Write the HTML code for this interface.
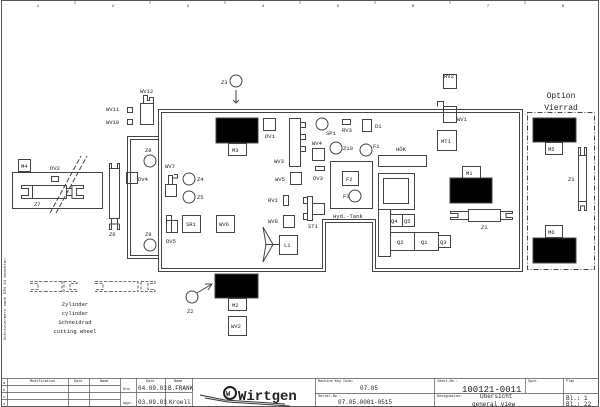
<!DOCTYPE html>
<html><head><meta charset="utf-8"><style>
html,body{margin:0;padding:0;background:#fff;}
svg{display:block;}
text{font-family:"Liberation Mono",monospace;fill:#222;}
</style></head><body>
<svg width="600" height="407" viewBox="0 0 600 407" xmlns="http://www.w3.org/2000/svg">
<g fill="none" stroke="#555" stroke-width="1">
<!-- frame -->
<rect x="1.5" y="0.5" width="597" height="406"/>
<g stroke-width="0.6">
<line x1="75" y1="1" x2="75" y2="4"/><line x1="150" y1="1" x2="150" y2="4"/><line x1="225" y1="1" x2="225" y2="4"/><line x1="300" y1="1" x2="300" y2="4"/><line x1="375" y1="1" x2="375" y2="4"/><line x1="450" y1="1" x2="450" y2="4"/><line x1="525" y1="1" x2="525" y2="4"/>
</g>
</g>
<g font-size="4" text-anchor="middle">
<text x="38" y="7">1</text><text x="113" y="7">2</text><text x="188" y="7">3</text><text x="263" y="7">4</text><text x="338" y="7">5</text><text x="413" y="7">6</text><text x="488" y="7">7</text><text x="563" y="7">8</text>
</g>
<text x="0" y="0" font-size="4" transform="translate(6,340) rotate(-90)">Schutzvermerk nach DIN 34 beachten</text>

<g fill="none" stroke="#444" stroke-width="1">
<!-- main body double outline -->
<path d="M158.5 109.5 H522.5 V271.5 H372.5 V222.5 H325.5 V271.5 H158.5 Z"/>
<path d="M161.5 112.5 H519.5 V268.5 H375.5 V219.5 H322.5 V268.5 H161.5 Z"/>
<!-- left attached -->
<path d="M158 136.5 H127.5 V258.5 H158"/>
<path d="M158 139.5 H130.5 V255.5 H158"/>
<!-- option dashed -->
<rect x="527.5" y="112.5" width="67" height="157" stroke-dasharray="5,2,1,2"/>

<!-- M3 -->
<rect x="216" y="118" width="42" height="25" fill="#000"/>
<rect x="228.5" y="143.5" width="18" height="12"/>
<rect x="263.5" y="118.5" width="12" height="12"/>
<!-- WV3 -->
<rect x="289.5" y="118.5" width="11" height="48"/>
<rect x="300.5" y="122.5" width="5" height="5"/><rect x="300.5" y="134.5" width="5" height="5"/><rect x="300.5" y="146.5" width="5" height="5"/>
<rect x="290.5" y="172.5" width="11" height="12"/>
<rect x="312.5" y="148.5" width="12" height="12"/>
<rect x="315.5" y="166.5" width="9" height="4"/>
<rect x="283.5" y="195.5" width="5" height="10"/>
<rect x="283.5" y="215.5" width="11" height="12"/>
<!-- ST1 -->
<rect x="307.5" y="196.5" width="5" height="24"/>
<rect x="312.5" y="203.5" width="12" height="11"/>
<path d="M307 197.5 H303.5 V203.5 H307 M307 213.5 H303.5 V219.5 H307"/>
<!-- L1 and fan -->
<rect x="279.5" y="235.5" width="18" height="19"/>
<path d="M279 244.5 H273 M273 244.5 L263 227 M273 244.5 L265 244.5 M273 244.5 L263 262 M263 227 L266 244 L263 262"/>
<!-- SP1 etc -->
<circle cx="322" cy="124" r="6"/>
<rect x="342.5" y="119.5" width="8" height="5"/>
<rect x="362.5" y="119.5" width="9" height="12"/>
<circle cx="336" cy="148" r="6"/>
<circle cx="366" cy="150" r="6"/>
<!-- Hyd tank -->
<rect x="330.5" y="161.5" width="42" height="47"/>
<rect x="342.5" y="171.5" width="16" height="14"/>
<circle cx="355" cy="196" r="6"/>
<!-- HOK -->
<rect x="378.5" y="155.5" width="48" height="11"/>
<!-- big block -->
<rect x="378.5" y="173.5" width="36" height="36"/>
<rect x="383.5" y="178.5" width="25" height="25"/>
<rect x="378.5" y="209.5" width="12" height="47"/>
<rect x="390.5" y="214.5" width="12" height="12"/><rect x="402.5" y="214.5" width="12" height="12"/>
<rect x="390.5" y="232.5" width="24" height="18"/><rect x="414.5" y="232.5" width="24" height="18"/>
<rect x="438.5" y="235.5" width="12" height="12"/>
<!-- M1 -->
<rect x="462.5" y="166.5" width="18" height="12"/>
<rect x="450" y="178" width="42" height="25" fill="#000"/>
<!-- Z1 horizontal -->
<rect x="468.5" y="209.5" width="32" height="12"/>
<path d="M468 211.5 H450.5 V213.5 H458 V217.5 H450.5 V219.5 H468"/>
<path d="M500 211.5 H512.5 V213.5 H506 V217.5 H512.5 V219.5 H500"/>
<!-- MT1, WV1, RV2 -->
<rect x="437.5" y="130.5" width="19" height="20"/>
<rect x="443.5" y="106.5" width="13" height="16"/>
<path d="M437.5 106.5 V101.5 H443.5 V106.5 H456.5"/>
<rect x="443.5" y="74.5" width="13" height="14"/>
<!-- option M5, Z1, M6 -->
<rect x="533" y="118" width="43" height="24" fill="#000"/>
<rect x="545.5" y="142.5" width="17" height="12"/>
<rect x="578.5" y="155.5" width="8" height="46"/>
<path d="M578.5 155 V147.5 H580.5 V155 M586.5 155 V147.5 H584.5 V155"/>
<path d="M578.5 202 V210.5 H580.5 V206 H584.5 V210.5 H586.5 V202"/>
<rect x="545.5" y="225.5" width="17" height="12"/>
<rect x="533" y="238" width="43" height="25" fill="#000"/>

<!-- left side -->
<circle cx="236" cy="81" r="6"/>
<path d="M236 90 V103 M233 100 L236 103 L239 100"/>
<rect x="140.5" y="103.5" width="13" height="21"/>
<path d="M143.5 103.5 V95.5 H147.5 V100.5 H149.5 V97.5 H153.5 V103"/>
<rect x="127.5" y="107.5" width="5" height="5"/><rect x="127.5" y="119.5" width="5" height="5"/>
<circle cx="150" cy="161" r="6"/>
<circle cx="150" cy="245" r="6"/>
<rect x="126.5" y="172.5" width="11" height="11"/>
<!-- Z6 -->
<rect x="109.5" y="168.5" width="10" height="50"/>
<path d="M109.5 168 V163.5 H111.5 V168 M119.5 168 V163.5 H117.5 V168"/>
<path d="M111.5 219 V229.5 H109.5 V224 M117.5 219 V229.5 H119.5 V224 M109.5 224 H119.5"/>
<!-- M4 unit -->
<rect x="18.5" y="159.5" width="12" height="12"/>
<rect x="12.5" y="172.5" width="90" height="36"/>
<rect x="51.5" y="176.5" width="7" height="5"/>
<rect x="32.5" y="185.5" width="34" height="13"/>
<path d="M32 185.5 H21.5 V188.5 H28.5 V195.5 H21.5 V198.5 H32"/>
<path d="M66 188.5 H72 M66 195.5 H72 M72 185.5 H83.5 V188.5 H76.5 V195.5 H83.5 V198.5 H72 Z"/>
<path d="M50 213 L81 156 M56 213 L87 156" stroke-dasharray="5,2"/>
<!-- WV7 etc -->
<rect x="165.5" y="184.5" width="11" height="12"/>
<path d="M168.5 184.5 V175.5 H172.5 V184.5 M172.5 178 H177.5 V174.5 H174"/>
<circle cx="189" cy="179" r="6"/>
<circle cx="189" cy="197" r="6"/>
<rect x="166.5" y="220.5" width="11" height="12"/>
<path d="M166.5 220.5 V215.5 H171.5 V232"/>
<rect x="182.5" y="215.5" width="18" height="17"/>
<rect x="216.5" y="215.5" width="18" height="17"/>
<!-- M2 -->
<rect x="215" y="274" width="43" height="24" fill="#000"/>
<rect x="228.5" y="298.5" width="18" height="12"/>
<rect x="228.5" y="316.5" width="18" height="19"/>
<circle cx="192" cy="297" r="6"/>
<path d="M197 293 L212 284 M205 284 L212 284 L208 290"/>
<!-- dashed cylinders -->
<g stroke-dasharray="3,1.5" stroke-width="0.8">
<path d="M30 281.5 H45 M30 283.5 H38 V289.5 H30 M30 291.5 H45 M45 281.5 H62 M45 291.5 H62 M62 281 V292 M64 281.5 H77 V283.5 H70 V289.5 H77 V291.5 H64 Z"/>
<path d="M95 281.5 H110 M95 283.5 H103 V289.5 H95 M95 291.5 H110 M110 281.5 H138 M110 291.5 H138 M138 281 V292 M141 281.5 H155 V283.5 H148 V289.5 H155 V291.5 H141 Z"/>
</g>
</g>

<g font-size="5.5">
<text x="21" y="168">M4</text><text x="50" y="170">DV2</text><text x="34" y="206">Z7</text>
<text x="109" y="236">Z6</text><text x="138" y="181">DV4</text>
<text x="145" y="152">Z8</text><text x="145" y="236">Z9</text>
<text x="106" y="111">WV11</text><text x="106" y="124">WV10</text><text x="140" y="93">WV12</text>
<text x="221" y="84">Z3</text>
<text x="165" y="168">WV7</text><text x="197" y="181">Z4</text><text x="197" y="199">Z5</text>
<text x="166" y="243">DV5</text><text x="186" y="226">SR1</text><text x="219" y="226">WV6</text>
<text x="232" y="152">M3</text><text x="265" y="138">DV1</text>
<text x="274" y="163">WV3</text><text x="275" y="181">WV5</text><text x="268" y="202">RV1</text><text x="268" y="223">WV8</text>
<text x="284" y="247">L1</text><text x="308" y="228">ST1</text>
<text x="326" y="135">SP1</text><text x="342" y="132">RV3</text><text x="375" y="128">D1</text>
<text x="312" y="145">WV4</text><text x="343" y="150">Z10</text><text x="373" y="148">F1</text>
<text x="313" y="180">DV3</text><text x="346" y="181">F2</text><text x="343" y="198">F3</text>
<text x="333" y="218">Hyd.-Tank</text><text x="396" y="151">HÖK</text>
<text x="391" y="223">Q4</text><text x="404" y="223">Q5</text>
<text x="397" y="244">Q2</text><text x="421" y="244">Q1</text><text x="440" y="244">Q3</text>
<text x="466" y="175">M1</text><text x="481" y="229">Z1</text>
<text x="441" y="143">MT1</text><text x="457" y="121">WV1</text><text x="444" y="78">RV2</text>
<text x="548" y="151">M5</text><text x="568" y="181">Z1</text><text x="548" y="234">M6</text>
<text x="232" y="307">M2</text><text x="231" y="328">WV2</text><text x="187" y="313">Z2</text>
</g>
<g font-size="8" text-anchor="middle"><text x="561" y="98">Option</text><text x="561" y="110">Vierrad</text></g>
<g font-size="5.5" text-anchor="middle">
<text x="75" y="306">Zylinder</text><text x="75" y="315">cylinder</text><text x="75" y="324">Schneidrad</text><text x="75" y="333">cutting wheel</text>
</g>

<!-- title block -->
<g fill="none" stroke="#555" stroke-width="0.7">
<line x1="1" y1="378.5" x2="599" y2="378.5"/>
<line x1="7.5" y1="378" x2="7.5" y2="407"/><line x1="68.5" y1="378" x2="68.5" y2="407"/><line x1="89.5" y1="378" x2="89.5" y2="407"/>
<line x1="120.5" y1="378" x2="120.5" y2="407"/><line x1="136.5" y1="378" x2="136.5" y2="407"/><line x1="165.5" y1="378" x2="165.5" y2="407"/><line x1="192.5" y1="378" x2="192.5" y2="407"/>
<line x1="315.5" y1="378" x2="315.5" y2="407"/><line x1="434.5" y1="378" x2="434.5" y2="407"/><line x1="525.5" y1="378" x2="525.5" y2="393"/><line x1="563.5" y1="378" x2="563.5" y2="407"/>
<line x1="1" y1="385.5" x2="120" y2="385.5"/><line x1="1" y1="392.5" x2="120" y2="392.5"/><line x1="1" y1="399.5" x2="120" y2="399.5"/>
<line x1="120" y1="392.5" x2="192" y2="392.5"/>
<line x1="315" y1="393.5" x2="563" y2="393.5"/><line x1="563" y1="393.5" x2="599" y2="393.5"/>
</g>
<g font-size="3.5"><text x="30" y="382">Modification</text><text x="74" y="382">Date</text><text x="100" y="382">Name</text><text x="146" y="382">Date</text><text x="174" y="382">Name</text>
<text x="318" y="382">Machine Key Code:</text><text x="318" y="397">Serial-No.:</text><text x="437" y="382">Ident-No.:</text><text x="437" y="397">Designation:</text><text x="528" y="382">Spot:</text><text x="566" y="382">Plan</text>
<text x="3" y="384">a</text><text x="3" y="391">b</text><text x="3" y="398">c</text><text x="3" y="405">d</text>
<text x="123" y="390">Drw.</text><text x="123" y="404">Appr.</text></g>
<g font-size="6"><text x="138" y="390">04.09.03</text><text x="168" y="390">B.FRANK</text><text x="138" y="404">03.09.03</text><text x="169" y="404">Kroell</text>
<text x="360" y="390">07.05</text><text x="338" y="404">07.05.0001-0515</text><text x="480" y="398">Übersicht</text><text x="472" y="406">general view</text>
<text x="566" y="400">Bl.: 1</text><text x="566" y="406">Bl.: 22</text></g>
<text x="462" y="392" font-size="9">100121-0011</text>
<text x="238" y="400" font-family="Liberation Sans,sans-serif" font-size="14" font-weight="bold">Wirtgen</text>
<circle cx="230" cy="393" r="6" fill="none" stroke="#222" stroke-width="2"/>
<text x="226" y="396" font-family="Liberation Sans,sans-serif" font-size="7" font-weight="bold">W</text>
<path d="M200 395 L225 400 L285 404 M205 398 L228 402 L290 406" stroke="#333" fill="none"/>
</svg>
</body></html>
